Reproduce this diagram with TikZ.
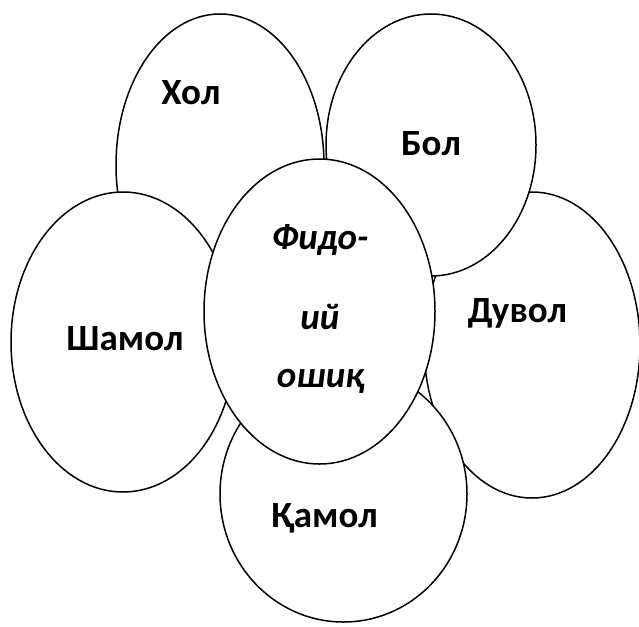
\documentclass[tikz,border=0pt]{standalone}
\usepackage{fontspec}
\setmainfont{Carlito}
\usetikzlibrary{shapes.geometric}
\tikzset{
  petal/.style={ellipse, draw=black, fill=white, line width=1.5pt, inner sep=0pt},
  lbl/.style={anchor=base, inner sep=0pt, font=\fontsize{37}{37}\selectfont\bfseries},
  ilbl/.style={anchor=base, inner sep=0pt, font=\fontsize{37}{37}\selectfont\bfseries\itshape}
}
\begin{document}
\begin{tikzpicture}[x=1pt,y=-1pt]
\useasboundingbox (0,0) rectangle (639,626);
\node[petal, minimum width=208pt, minimum height=302pt] (hol) at (220,165) {};
\node[petal, minimum width=216pt, minimum height=306pt] (duvol) at (532,345) {};
\node[petal, minimum width=210pt, minimum height=262pt] (bol) at (431,145) {};
\node[petal, minimum width=224pt, minimum height=300pt] (shamol) at (123,342) {};
\node[petal, minimum width=247pt, minimum height=256pt] (qamol) at (343.5,494) {};
\node[petal, minimum width=231pt, minimum height=305pt] (center) at (319.5,311.5) {};
\node[lbl] (tHol) at (191,104) {Хол};
\node[lbl] (tBol) at (431,155) {Бол};
\node[lbl] (tDuvol) at (517.5,322) {Дувол};
\node[lbl] (tShamol) at (125,350) {Шамол};
\node[lbl] (tQamol) at (324.5,527) {Қамол};
\node[ilbl] (tC1) at (320,249) {Фидо-};
\node[ilbl] (tC2) at (320,329) {ий};
\node[ilbl] (tC3) at (321,387) {ошиқ};
\end{tikzpicture}
\end{document}
